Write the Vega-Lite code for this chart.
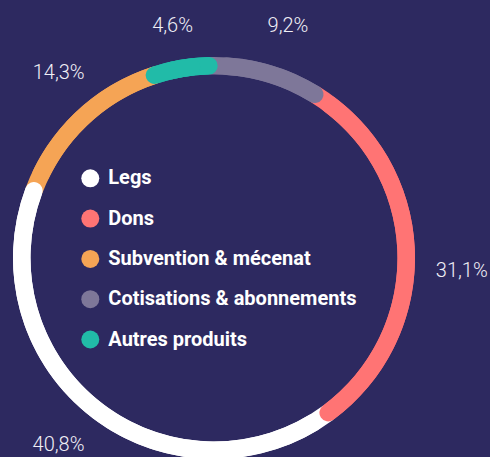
{
  "$schema": "https://vega.github.io/schema/vega-lite/v6.json",
  "autosize": {"type": "none"},
  "width": 428,
  "height": 398,
  "padding": {"left": 0, "top": 59, "right": 62, "bottom": 0},
  "background": "#2d2960",
  "view": {"stroke": null},
  "data": {
    "values": [
      {"cat": "Subvention & mécenat", "value": 14.3, "rang": 4, "label": "14,3%"},
      {"cat": "Legs", "value": 40.8, "rang": 3, "label": "40,8%"},
      {"cat": "Dons", "value": 31.1, "rang": 2, "label": "31,1%"},
      {"cat": "Cotisations & abonnements", "value": 9.2, "rang": 1, "label": "9,2%"},
      {"cat": "Autres produits", "value": 4.6, "rang": 5, "label": "4,6%"}
    ]
  },
  "transform": [
    {"stack": "value", "groupby": [], "sort": [{"field": "rang", "order": "ascending"}], "as": ["v0", "v1"]}
  ],
  "layer": [
    {
      "mark": {"type": "arc", "outerRadius": 201, "innerRadius": 183.5, "strokeWidth": 0},
      "encoding": {
        "theta": {"field": "v0", "type": "quantitative", "scale": {"domain": [0, 100], "range": [-0.02618, 6.25701], "zero": true, "nice": false}},
        "theta2": {"field": "v1"},
        "color": {
          "field": "cat",
          "type": "nominal",
          "scale": {
            "domain": ["Legs", "Dons", "Subvention & mécenat", "Cotisations & abonnements", "Autres produits"],
            "range": ["#ffffff", "#ff7474", "#f5a455", "#7e7799", "#21bba8"]
          },
          "legend": {
            "orient": "none",
            "legendX": 80.3,
            "legendY": 109.3,
            "title": null,
            "padding": 0,
            "symbolType": "circle",
            "symbolSize": 324,
            "symbolStrokeWidth": 0,
            "symbolOpacity": 1,
            "labelFont": "Roboto",
            "labelFontSize": 20,
            "labelFontWeight": "bold",
            "labelColor": "#ffffff",
            "labelOffset": 8,
            "rowPadding": 20.3,
            "labelLimit": 400
          }
        }
      }
    },
    {
      "mark": {"type": "arc", "outerRadius": 201, "innerRadius": 183.5, "cornerRadius": 8.75, "thetaOffset": 0.0455, "theta2Offset": 0.0455, "strokeWidth": 0},
      "encoding": {
        "theta": {"field": "v0", "type": "quantitative"},
        "theta2": {"field": "v1"},
        "color": {"field": "cat", "type": "nominal"}
      }
    },
    {
      "transform": [{"filter": "datum.cat == 'Autres produits'"}],
      "mark": {"type": "arc", "outerRadius": 201, "innerRadius": 183.5, "cornerRadius": 8.75, "thetaOffset": -0.0455, "theta2Offset": -0.0455, "strokeWidth": 0},
      "encoding": {
        "theta": {"field": "v0", "type": "quantitative"},
        "theta2": {"field": "v1"},
        "color": {"field": "cat", "type": "nominal"}
      }
    },
    {
      "mark": {
        "type": "text",
        "radius": 240,
        "font": "Roboto",
        "fontSize": 20,
        "fontWeight": 300,
        "color": "#f0eff6",
        "align": "center",
        "baseline": "middle",
        "dx": {"expr": "datum.cat == 'Cotisations & abonnements' ? 11.6 : datum.cat == 'Dons' ? 8 : datum.cat == 'Legs' ? -11 : datum.cat == 'Subvention & mécenat' ? 10.8 : -0.7"},
        "dy": {"expr": "datum.cat == 'Cotisations & abonnements' ? 0 : datum.cat == 'Dons' ? 23 : datum.cat == 'Legs' ? -4.6 : datum.cat == 'Subvention & mécenat' ? -11.7 : 4.5"}
      },
      "encoding": {
        "theta": {"field": "value", "type": "quantitative", "stack": true},
        "order": {"field": "rang", "type": "quantitative"},
        "text": {"field": "label", "type": "nominal"}
      }
    }
  ]
}
